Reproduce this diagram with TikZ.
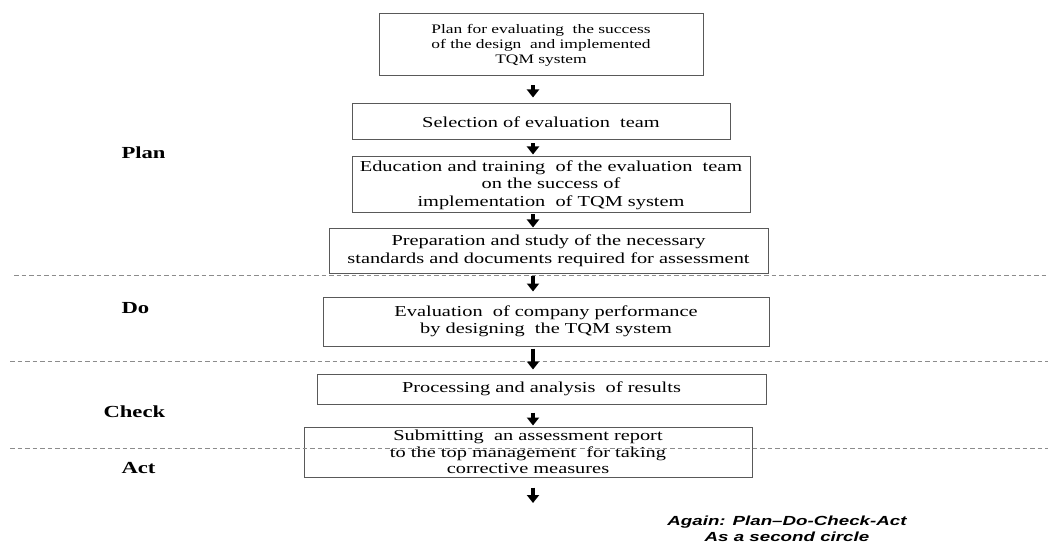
\documentclass[tikz,border=0pt]{standalone}
\usepackage{fontspec}
\setmainfont[FakeStretch=1.34]{Liberation Serif}
\newfontfamily\againfont[FakeStretch=1.42]{Liberation Sans}
\usetikzlibrary{arrows.meta}

\begin{document}
\begin{tikzpicture}[x=1pt, y=-1pt,
    box/.style={draw=black!65, line width=1pt, rectangle, align=center, inner sep=0pt,
        font=\fontsize{15.2}{17.5}\selectfont},
    phase/.style={anchor=west, font=\fontsize{16.9}{19}\selectfont\bfseries},
    flow/.style={-{Triangle[width=12pt,length=8pt]}, line width=3.2pt},
    sep/.style={draw=black!45, line width=1pt, dash pattern=on 4.5pt off 3pt}]

    \useasboundingbox (0,0) rectangle (1051,545);

    % Nodes
    \node[box, minimum width=324pt, minimum height=62pt, font=\fontsize{13}{15}\selectfont] (plan) at (541,45)
        {Plan for evaluating\ \ the success\\of the design\ \ and implemented\\TQM system};
    \node[box, minimum width=378pt, minimum height=36pt] (team) at (541,122)
        {Selection of evaluation\ \ team};
    \node[box, minimum width=398pt, minimum height=56pt] (train) at (551,185)
        {Education and training\ \ of the evaluation\ \ team\\on the success of\\implementation\ \ of TQM system};
    \node[box, minimum width=439pt, minimum height=44pt] (prep) at (548.5,251)
        {Preparation and study of the necessary\\standards and documents required for assessment};
    \node[box, minimum width=446pt, minimum height=49pt] (eval) at (546,321.5)
        {Evaluation\ \ of company performance\\by designing\ \ the TQM system};
    \node[box, minimum width=449pt, minimum height=30pt] (proc) at (541.5,389)
        {Processing and analysis\ \ of results};
    \node[box, minimum width=448pt, minimum height=50pt, font=\fontsize{15.2}{16.5}\selectfont] (report) at (528,452)
        {Submitting\ \ an assessment report\\to the top management\ \ for taking\\corrective measures};

    % Phases
    \node[phase] (lplan) at (118,153) {Plan};
    \node[phase] (ldo) at (118,308) {Do};
    \node[phase] (lcheck) at (100,412) {Check};
    \node[phase] (lact) at (118,468) {Act};

    \node[align=center, font=\againfont\fontsize{13.2}{16.5}\selectfont\bfseries\itshape] (again) at (787,529)
        {Again: Plan–Do-Check-Act\\As a second circle};

    % Phase borders
    \draw[sep] (14,275) -- (1048,275);
    \draw[sep] (10,361) -- (1048,361);
    \draw[sep] (10,448) -- (1048,448);

    % Arrows
    \coordinate (ax) at (533,0);
    \coordinate (next) at (533,503);
    \draw[flow, shorten <=9pt, shorten >=6pt] (plan.south -| ax) -- (team.north -| ax);
    \draw[flow, shorten <=3pt, shorten >=2pt] (team.south -| ax) -- (train.north -| ax);
    \draw[flow, shorten <=1pt, shorten >=1pt] (train.south -| ax) -- (prep.north -| ax);
    \draw[flow, shorten <=2pt, shorten >=5pt] (prep.south -| ax) -- (eval.north -| ax);
    \draw[flow, shorten <=2pt, shorten >=4pt] (eval.south -| ax) -- (proc.north -| ax);
    \draw[flow, shorten <=8pt, shorten >=1pt] (proc.south -| ax) -- (report.north -| ax);
    \draw[flow, shorten <=10pt] (report.south -| ax) -- (next);

\end{tikzpicture}
\end{document}
